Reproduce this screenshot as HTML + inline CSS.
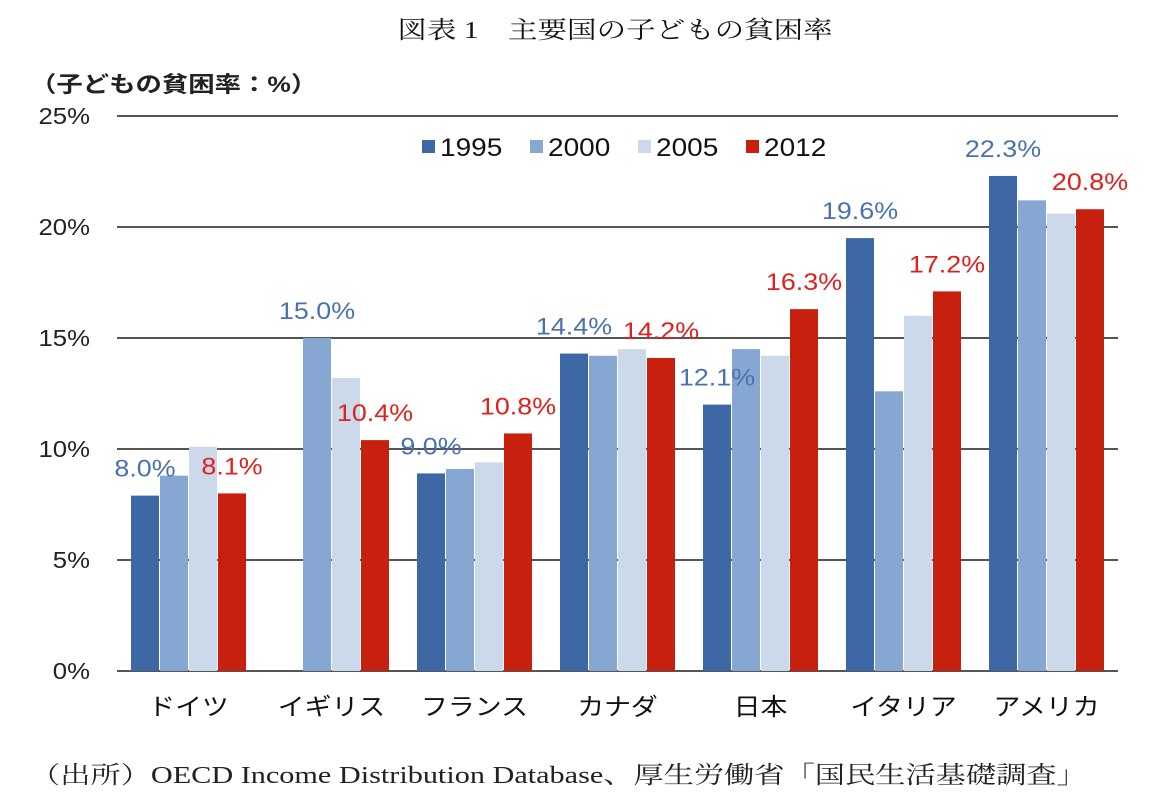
<!DOCTYPE html>
<html><head><meta charset="utf-8">
<style>
body{margin:0;background:#fff;width:1150px;height:800px;overflow:hidden}
svg text{font-family:"Liberation Sans","Noto Sans CJK JP",sans-serif}
</style></head>
<body>
<svg id="chart" width="1150" height="800">
<text transform="translate(615,38) scale(1.23,1)" text-anchor="middle" font-size="24" style="font-family:'Liberation Serif','Noto Serif CJK SC',serif" fill="#111">図表 1　主要国の子どもの貧困率</text>
<text transform="translate(30,92) scale(1.2,1)" font-size="22" font-weight="bold" fill="#222">（子どもの貧困率：%）</text>
<text transform="translate(30,783) scale(1.26,1)" font-size="24" style="font-family:'Liberation Serif','Noto Serif CJK JP',serif" fill="#222">（出所）OECD Income Distribution Database、厚生労働省「国民生活基礎調査」</text>
<g id="grid"></g><g id="bars"></g><g id="labels"></g><g id="legend"></g>
</svg>
<script>
const categories=["ドイツ","イギリス","フランス","カナダ","日本","イタリア","アメリカ"];
const seriesNames=["1995","2000","2005","2012"];
const s1995=[7.9,null,8.9,14.3,12.0,19.5,22.3];
const s2000=[8.8,15.0,9.1,14.2,14.5,12.6,21.2];
const s2005=[10.1,13.2,9.4,14.5,14.2,16.0,20.6];
const s2012=[8.0,10.4,10.7,14.1,16.3,17.1,20.8];
const labels1995=["8.0%",null,"9.0%","14.4%","12.1%","19.6%","22.3%"];
const labels2000=[null,"15.0%",null,null,null,null,null];
const labels2012=["8.1%","10.4%","10.8%","14.2%","16.3%","17.2%","20.8%"];
const yTicks=[0,5,10,15,20,25];
const series=[s1995,s2000,s2005,s2012];
const colors=["#3d67a5","#87a7d3","#ccd9ea","#c8200e"];
const NS="http://www.w3.org/2000/svg";
const x0=117,x1=1118,y0=671,yTop=116,gw=(x1-x0)/categories.length,SX=1.12;
const y=v=>y0-(v/25)*(y0-yTop);
function mk(t,a,p){const e=document.createElementNS(NS,t);for(const k in a)e.setAttribute(k,a[k]);p.appendChild(e);return e;}
function txt(px,py,str,attrs,p){const a=Object.assign({transform:`translate(${px},${py}) scale(${SX},1)`},attrs);const t=mk('text',a,p);t.textContent=str;return t;}
const grid=document.getElementById('grid'),bars=document.getElementById('bars'),lab=document.getElementById('labels'),leg=document.getElementById('legend');
yTicks.forEach(t=>{
 const l=mk('line',{x1:x0,x2:x1,y1:y(t),y2:y(t),stroke:"#555","stroke-width":2},grid);
 
 
 const tx=txt(90,y(t)+8,t+"%",{"text-anchor":"end","font-size":23,fill:"#222"},grid);
 
 
});
const bw=28,step=29;
categories.forEach((c,i)=>{
 const gx=x0+i*gw+14;
 series.forEach((s,j)=>{
  if(s[i]==null)return;
  const r=mk('rect',{x:gx+j*step,y:y(s[i]),width:bw,height:y0-y(s[i]),fill:colors[j]},bars);
  
  
 });
 const addL=(arr,j,col)=>{if(!arr[i])return;
  const t=txt(gx+j*step+bw/2,y(series[j][i])-19,arr[i],{"text-anchor":"middle","font-size":24,fill:col},lab);
  
  };
 addL(labels1995,0,"#4a72b0");addL(labels2000,1,"#4a72b0");addL(labels2012,3,"#e0201b");
 const ct=txt(x0+i*gw+gw/2,715,c,{"text-anchor":"middle","font-size":24,fill:"#111"},lab);
 
 
});
const lx=[422,530,638,746];
seriesNames.forEach((n,j)=>{
 const r=mk('rect',{x:lx[j],y:140,width:13,height:13,fill:colors[j]},leg);
 
 
 const t=txt(lx[j]+18,156,n,{"font-size":25,fill:"#111"},leg);
 
 
});
</script>
</body></html>
